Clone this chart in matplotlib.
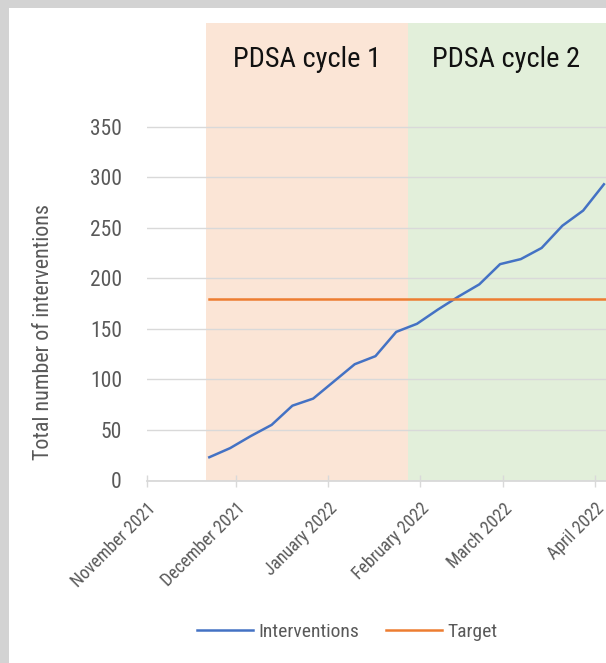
import datetime as dt

import matplotlib

matplotlib.use("Agg")

import matplotlib.font_manager as fm
import matplotlib.pyplot as plt
from matplotlib.patches import Rectangle

# weekly cumulative interventions, starting Monday 22 Nov 2021
start_week = dt.date(2021, 11, 22)
interventions = [23, 32, 44, 55, 74, 81, 98, 115, 123, 147,
                 155, 169, 182, 194, 214, 219, 230, 252, 267, 293]
target = 180
cycle_labels = ["PDSA cycle 1", "PDSA cycle 2"]
cycle_bounds = [dt.date(2021, 11, 21), dt.date(2022, 1, 28), dt.date(2022, 4, 5)]
month_ticks = [dt.date(2021, 11, 1), dt.date(2021, 12, 1), dt.date(2022, 1, 1),
               dt.date(2022, 2, 1), dt.date(2022, 3, 1), dt.date(2022, 4, 1)]
y_ticks = [0, 50, 100, 150, 200, 250, 300, 350]

weeks = [start_week + dt.timedelta(days=7 * i) for i in range(len(interventions))]

available = {f.name for f in fm.fontManager.ttflist}
font = "DejaVu Sans"
for cand in ["Liberation Sans Narrow", "DejaVu Sans Condensed", "Roboto Condensed", "Roboto"]:
    if cand in available:
        font = cand
        break
plt.rcParams["font.family"] = [font, "DejaVu Sans"]

W, H = 606, 663
fig = plt.figure(figsize=(W / 100, H / 100), dpi=100, facecolor="#d3d3d3")
fig.patches.append(Rectangle((9 / W, 0), 1, (H - 8) / H, transform=fig.transFigure,
                             facecolor="white", edgecolor="none", zorder=-5))

# axes runs past the right edge of the picture (cropped chart)
x0_px, y0_px = 147, 480.5
px_per_day = 2.967
xmin, xmax = dt.date(2021, 11, 1), dt.date(2022, 5, 1)
ymax = 453
ax_w = (xmax - xmin).days * px_per_day
ax_h = ymax * 1.011
ax = fig.add_axes([x0_px / W, (H - y0_px) / H, ax_w / W, ax_h / H])
ax.set_facecolor("none")

band_colors = ["#fbe5d6", "#e2efda"]
for i, label in enumerate(cycle_labels):
    a, b = cycle_bounds[i], cycle_bounds[i + 1]
    ax.axvspan(a, b, color=band_colors[i], zorder=0.5, lw=0)
    mid = a + (b - a) / 2
    ax.text(mid, 409, label, ha="center", va="baseline", fontsize=20.5, color="#111111")

ax.plot(weeks, interventions, color="#4472c4", lw=1.8, label="Interventions", zorder=3)
ax.plot([weeks[0], xmax], [target, target], color="#ed7d31", lw=1.8, label="Target", zorder=3)

ax.set_xlim(xmin, xmax)
ax.set_ylim(0, ymax)
ax.set_yticks(y_ticks)
ax.yaxis.grid(True, color="#d9d9d9", lw=1.0, zorder=1)
ax.tick_params(axis="y", length=0, pad=18, labelsize=15.5, labelcolor="#595959")

ax.set_xticks(month_ticks)
ax.set_xticklabels([d.strftime("%B %Y") for d in month_ticks], rotation=45,
                   ha="right", va="top", rotation_mode="anchor")
ax.tick_params(axis="x", direction="inout", length=8.4, width=1.0, color="#d9d9d9",
               pad=9.5, labelsize=12.8, labelcolor="#595959")

for side in ["left", "right", "top"]:
    ax.spines[side].set_visible(False)
ax.spines["bottom"].set_color("#d9d9d9")
ax.spines["bottom"].set_linewidth(1.3)

fig.text(44 / W, 1 - 332.5 / H, "Total number of interventions", rotation=90,
         ha="center", va="center", fontsize=15.8, color="#595959")

fig.legend(loc="center", bbox_to_anchor=(347 / W, 1 - 632 / H), ncol=2, frameon=False,
           fontsize=14, handlelength=2.9, handletextpad=0.25, columnspacing=1.4,
           labelcolor="#595959")

fig.savefig("out.png", dpi=100, facecolor=fig.get_facecolor())
